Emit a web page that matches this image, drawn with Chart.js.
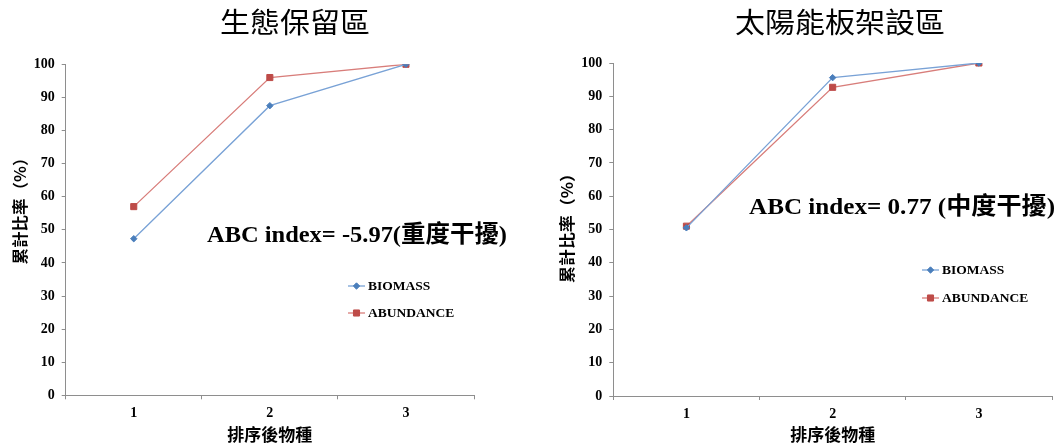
<!DOCTYPE html>
<html>
<head>
<meta charset="utf-8">
<script src="https://cdn.jsdelivr.net/npm/chart.js@4.4.0/dist/chart.umd.min.js"></script>
<style>
  html, body { margin: 0; padding: 0; background: #fff; }
  #wrap { position: relative; width: 1058px; height: 446px; overflow: hidden; }
  .panel { position: absolute; top: 0; width: 529px; height: 446px; }
  #leftPanel { left: 0; }
  #rightPanel { left: 529px; }
</style>
</head>
<body>
<div id="wrap">
  <div class="panel" id="leftPanel"><canvas id="reserveChart" width="529" height="446"></canvas></div>
  <div class="panel" id="rightPanel"><canvas id="solarChart" width="529" height="446"></canvas></div>
</div>
<script>
// Ranked species (x categories)
const categories = ['1', '2', '3'];
const seriesNames = ['BIOMASS', 'ABUNDANCE'];

// Cumulative percentage, conservation area
const reserveBiomass = [47.3, 87.5, 100];
const reserveAbundance = [57.0, 96.0, 100];

// Cumulative percentage, solar panel area
const solarBiomass = [50.5, 95.6, 100];
const solarAbundance = [51.0, 92.7, 100];

// Y axis ticks
const yMin = 0;
const yMax = 100;
const yStep = 10;

// Texts
const panelTitles = ['生態保留區', '太陽能板架設區'];
const abcLabels = ['ABC index= -5.97(重度干擾)', 'ABC index= 0.77 (中度干擾)'];
const xAxisTitle = '排序後物種';
const yAxisTitle = '累計比率（%）';

const SERIF = '"Liberation Serif", "Times New Roman", serif';
const CJK = '"Noto Sans CJK TC", "Noto Sans CJK SC", sans-serif';
const AXIS_GRAY = '#8e8e8e';
const BLUE = '#4a7ebb';
const BLUE_LINE = '#79a2d6';
const RED = '#be4b48';
const RED_LINE = '#d87d7a';

// Writes text stretched horizontally to a given width, anchored on its left edge
function fitText(ctx, text, x, y, width) {
  const w = ctx.measureText(text).width;
  ctx.save();
  ctx.translate(x, y);
  ctx.scale(width / w, 1);
  ctx.textAlign = 'left';
  ctx.fillText(text, 0, 0);
  ctx.restore();
}

// Draws panel title, rotated y title, ABC annotation and in-plot legend
const panelText = {
  id: 'panelText',
  afterDraw(chart, args, o) {
    const ctx = chart.ctx;
    ctx.save();
    ctx.fillStyle = '#000';

    ctx.font = '28px ' + CJK;
    ctx.textBaseline = 'middle';
    fitText(ctx, o.title, o.titleX - o.titleW / 2, o.titleY, o.titleW);

    ctx.save();
    ctx.translate(o.yTitleX, o.yTitleY);
    ctx.rotate(-Math.PI / 2);
    ctx.font = 'bold 16px ' + CJK;
    fitText(ctx, o.yTitle, -o.yTitleW / 2, 0, o.yTitleW);
    ctx.restore();

    ctx.font = 'bold 24px ' + SERIF + ', ' + CJK;
    ctx.textBaseline = 'alphabetic';
    fitText(ctx, o.abc, o.abcX, o.abcY, o.abcW);

    chart.data.datasets.forEach((ds, i) => {
      const y = o.legendY[i];
      const x0 = o.legendX;
      ctx.strokeStyle = ds.borderColor;
      ctx.lineWidth = ds.borderWidth;
      ctx.beginPath();
      ctx.moveTo(x0, y);
      ctx.lineTo(x0 + 17, y);
      ctx.stroke();
      ctx.fillStyle = ds.pointBackgroundColor;
      ctx.strokeStyle = ds.pointBorderColor;
      ctx.lineWidth = 1;
      Chart.helpers.drawPoint(ctx, {
        pointStyle: ds.pointStyle, rotation: 0,
        radius: ds.pointRadius, borderWidth: 1
      }, x0 + 8.5, y);
      ctx.fillStyle = '#000';
      ctx.font = 'bold 13.5px ' + SERIF;
      ctx.textAlign = 'left';
      ctx.textBaseline = 'middle';
      ctx.fillText(ds.label, x0 + 20, y + 1);
    });
    ctx.restore();
  }
};

function makeChart(canvasId, biomass, abundance, g) {
  return new Chart(document.getElementById(canvasId), {
    type: 'line',
    data: {
      labels: categories,
      datasets: [
        {
          label: seriesNames[0], data: biomass,
          borderColor: BLUE_LINE, borderWidth: 1.3,
          pointBackgroundColor: BLUE, pointBorderColor: BLUE,
          pointStyle: 'rectRot', pointRadius: 3.2, pointBorderWidth: 1,
          tension: 0
        },
        {
          label: seriesNames[1], data: abundance,
          borderColor: RED_LINE, borderWidth: 1.3,
          pointBackgroundColor: RED, pointBorderColor: RED,
          pointStyle: 'rect', pointRadius: 4.3, pointBorderWidth: 1,
          tension: 0
        }
      ]
    },
    options: {
      responsive: false,
      animation: false,
      layout: { padding: { left: 0, right: g.padRight, top: g.top, bottom: 0 } },
      plugins: {
        legend: { display: false },
        title: { display: false },
        tooltip: { enabled: false },
        panelText: g.text
      },
      scales: {
        x: {
          type: 'category',
          offset: true,
          grid: { display: true, drawOnChartArea: false, offset: true, tickLength: 4, color: AXIS_GRAY },
          border: { display: true, color: AXIS_GRAY, width: 1 },
          ticks: { color: '#000', padding: 6, maxRotation: 0, font: { family: SERIF, size: 14, weight: 'bold' } },
          title: {
            display: true, text: xAxisTitle, color: '#000',
            font: { family: CJK, size: 17, weight: 'bold' },
            padding: { top: 0, bottom: 1 }
          },
          afterFit(s) { s.height = g.xHeight; }
        },
        y: {
          type: 'linear',
          min: yMin, max: yMax,
          grid: { display: true, drawOnChartArea: false, tickLength: 4, color: AXIS_GRAY },
          border: { display: true, color: AXIS_GRAY, width: 1 },
          ticks: { stepSize: yStep, color: '#000', padding: 7, font: { family: SERIF, size: 14, weight: 'bold' } },
          afterFit(s) { s.width = g.yWidth; }
        }
      }
    },
    plugins: [panelText]
  });
}

makeChart('reserveChart', reserveBiomass, reserveAbundance, {
  yWidth: 65.7, padRight: 55, top: 64.3, xHeight: 50.7,
  text: {
    title: panelTitles[0], titleX: 295, titleY: 22, titleW: 150,
    yTitle: yAxisTitle, yTitleX: 20, yTitleY: 207, yTitleW: 115,
    abc: abcLabels[0], abcX: 207, abcY: 242, abcW: 300,
    legendX: 348, legendY: [286, 313]
  }
});

makeChart('solarChart', solarBiomass, solarAbundance, {
  yWidth: 84.3, padRight: 6, top: 63, xHeight: 50,
  text: {
    title: panelTitles[1], titleX: 311, titleY: 22, titleW: 210,
    yTitle: yAxisTitle, yTitleX: 38, yTitleY: 224, yTitleW: 118,
    abc: abcLabels[1], abcX: 220, abcY: 214, abcW: 306,
    legendX: 393, legendY: [270, 298]
  }
});
</script>
</body>
</html>
